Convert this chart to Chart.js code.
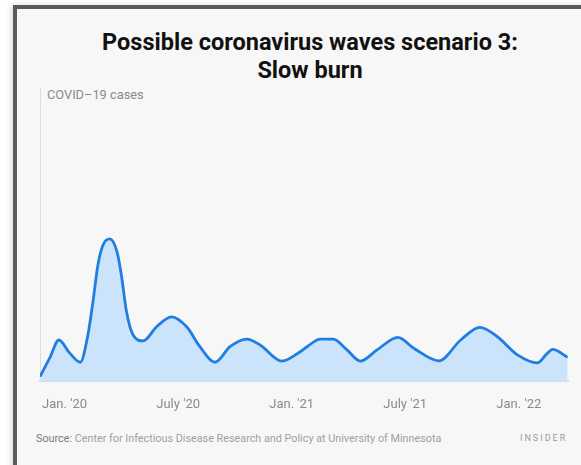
<!DOCTYPE html>
<html>
<head>
<meta charset="utf-8">
<script src="https://cdn.jsdelivr.net/npm/chart.js@4.4.1/dist/chart.umd.min.js"></script>
<style>
  html, body { margin: 0; padding: 0; background: #ffffff; width: 581px; height: 465px; overflow: hidden; }
  .frame {
    position: absolute; left: 13px; top: 5px; width: 620px; height: 500px;
    border: 4px solid #5b5b5b; background: #f7f7f7;
    box-shadow: -2px 0 6px rgba(0,0,0,0.15);
  }
  .title {
    position: absolute; left: 17px; width: 586px; top: 28px;
    text-align: center; font-family: Roboto, sans-serif; font-weight: 700;
    font-size: 23.5px; line-height: 28px; color: #111;
  }
  .ylabel {
    position: absolute; left: 47px; top: 87px;
    font-family: Roboto, sans-serif; font-size: 12.8px; color: #8a8a8a;
  }
  .source {
    position: absolute; left: 36px; top: 432px;
    font-family: Roboto, sans-serif; font-size: 10.8px; color: #a0a0a0;
  }
  .source b { font-weight: 400; color: #7a7a7a; }
  .brand {
    position: absolute; left: 520px; top: 433px;
    font-family: Roboto, sans-serif; font-size: 9px; letter-spacing: 2px; color: #9a9a9a;
  }
  #chart { position: absolute; left: 0; top: 0; }
</style>
</head>
<body>
<div class="frame"></div>
<div class="title">Possible coronavirus waves scenario 3:<br>Slow burn</div>
<div class="ylabel">COVID–19 cases</div>
<div class="source"><b>Source:</b> Center for Infectious Disease Research and Policy at University of Minnesota</div>
<div class="brand">INSIDER</div>
<canvas id="chart" width="581" height="465"></canvas>
<script>
// months since Jan 2020
const months = [
  -1.30, -0.79, -0.30, 0.26, 0.83, 1.23, 1.50, 1.76, 2.03, 2.38, 2.77, 3.00,
  3.27, 3.62, 4.15, 4.86, 5.65, 6.45, 7.15, 7.95, 8.74, 9.63, 10.33, 11.48,
  12.45, 12.81, 13.51, 14.20, 14.92, 15.63, 16.51, 17.61, 18.45, 19.78, 20.93,
  21.95, 22.87, 23.93, 24.99, 25.43, 25.79, 26.58,
];
const cases = [
  1.5, 7.8, 14.0, 9.6, 6.4, 15.7, 27.1, 39.6, 46.4, 48.5, 44.1, 36.2,
  23.7, 15.7, 13.7, 18.5, 21.9, 18.5, 11.7, 6.4, 11.7, 14.3, 12.3, 6.8,
  10.0, 11.7, 14.3, 14.3, 10.6, 6.8, 10.6, 14.9, 11.2, 6.9, 14.0,
  18.3, 15.1, 8.9, 6.2, 8.9, 10.8, 8.1,
];
const tickMonths = [0, 6, 12, 18, 24];
const tickLabels = ["Jan. '20", "July '20", "Jan. '21", "July '21", "Jan. '22"];

const points = months.map((m, i) => ({ x: m, y: cases[i] }));

new Chart(document.getElementById("chart"), {
  type: "line",
  data: {
    datasets: [
      {
        data: points,
        borderColor: "#1f7ee0",
        borderWidth: 2.8,
        backgroundColor: "#cce4fb",
        fill: "origin",
        pointRadius: 0,
        cubicInterpolationMode: "monotone",
      },
    ],
  },
  options: {
    responsive: false,
    animation: false,
    layout: { padding: { left: 32, right: 13, top: 88, bottom: 44.4 } },
    plugins: { legend: { display: false }, tooltip: { enabled: false } },
    scales: {
      x: {
        type: "linear",
        min: -1.3,
        max: 26.6,
        grid: { display: false },
        border: { display: true, color: "#d3dde9", width: 2 },
        afterBuildTicks: (axis) => {
          axis.ticks = tickMonths.map((v) => ({ value: v }));
        },
        ticks: {
          padding: 8,
          color: "#8a8a8a",
          font: { family: "Roboto", size: 13 },
          maxRotation: 0,
          autoSkip: false,
          callback: (v) => tickLabels[tickMonths.indexOf(v)],
        },
      },
      y: {
        min: 0,
        max: 100,
        grid: { display: false },
        border: { display: true, color: "#dddddd", width: 1 },
        ticks: { display: false },
      },
    },
  },
});
</script>
</body>
</html>
